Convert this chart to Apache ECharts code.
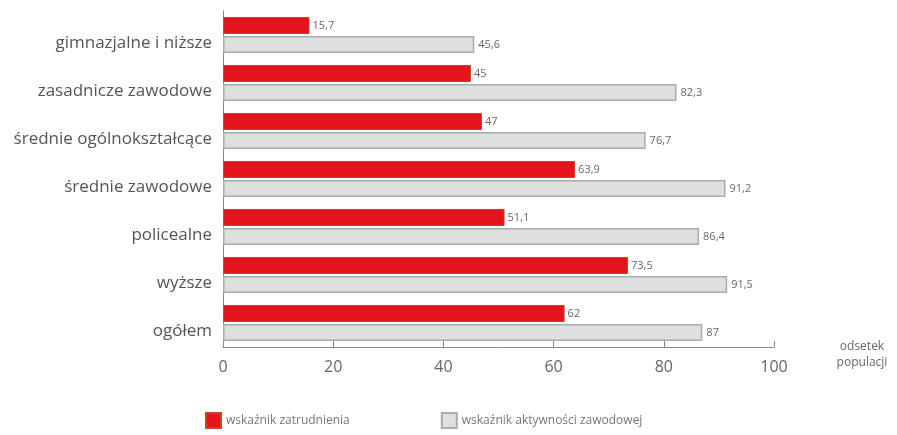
<!DOCTYPE html>
<html><head><meta charset="utf-8">
<script src="https://cdn.jsdelivr.net/npm/echarts@6/dist/echarts.min.js"></script>
<style>html,body{margin:0;padding:0;background:#fff}#c{width:897px;height:435px}</style>
</head><body><div id="c"></div>
<script>
const categories = ['gimnazjalne i niższe','zasadnicze zawodowe','średnie ogólnokształcące','średnie zawodowe','policealne','wyższe','ogółem'];
const employment = [15.7, 45, 47, 63.9, 51.1, 73.5, 62];
const activity = [45.6, 82.3, 76.7, 91.2, 86.4, 91.5, 87];
const seriesNames = ['wskaźnik zatrudnienia','wskaźnik aktywności zawodowej'];
const fmt = p => String(p.value).replace('.', ',');
const chart = echarts.init(document.getElementById('c'));
const font = "'Open Sans', sans-serif";
chart.setOption({
  animation:false,
  textStyle:{fontFamily:font},
  grid:{left:223,right:123,top:11,bottom:88},
  legend:{
    bottom:1,left:200,itemGap:91,itemWidth:15,itemHeight:15,itemTextGap:12,icon:'rect',
    textStyle:{fontSize:12,color:'#777',fontFamily:font},
    data:seriesNames
  },
  xAxis:{type:'value',min:0,max:100,interval:20,
    axisLine:{show:true,lineStyle:{color:'#888'}},
    axisTick:{show:true,inside:true,length:6,lineStyle:{color:'#888'}},
    axisLabel:{fontSize:16,color:'#666',margin:12,fontFamily:font},
    splitLine:{show:false},
    name:'odsetek\npopulacji',nameLocation:'end',nameGap:88,
    nameTextStyle:{fontSize:12,color:'#666',lineHeight:16,align:'center',verticalAlign:'top',padding:[-8,0,0,0]}
  },
  yAxis:{type:'category',inverse:true,data:categories,
    axisLine:{show:true,lineStyle:{color:'#888'}},
    axisTick:{show:false},
    axisLabel:{fontSize:17,color:'#555',margin:11,fontFamily:font,verticalAlign:'top',lineHeight:17}
  },
  series:[
    {name:seriesNames[0],type:'bar',data:employment,barWidth:17,barGap:'12%',
     itemStyle:{color:'#e3151b',borderColor:'#c8442a',borderWidth:1},
     label:{show:true,position:'right',distance:3,fontSize:11,color:'#666',formatter:fmt}},
    {name:seriesNames[1],type:'bar',data:activity,barWidth:17,
     itemStyle:{color:'#dedfe0',borderColor:'#a9abae',borderWidth:1.5},
     label:{show:true,position:'right',distance:4,fontSize:11,color:'#666',formatter:fmt}}
  ]
});
</script></body></html>
